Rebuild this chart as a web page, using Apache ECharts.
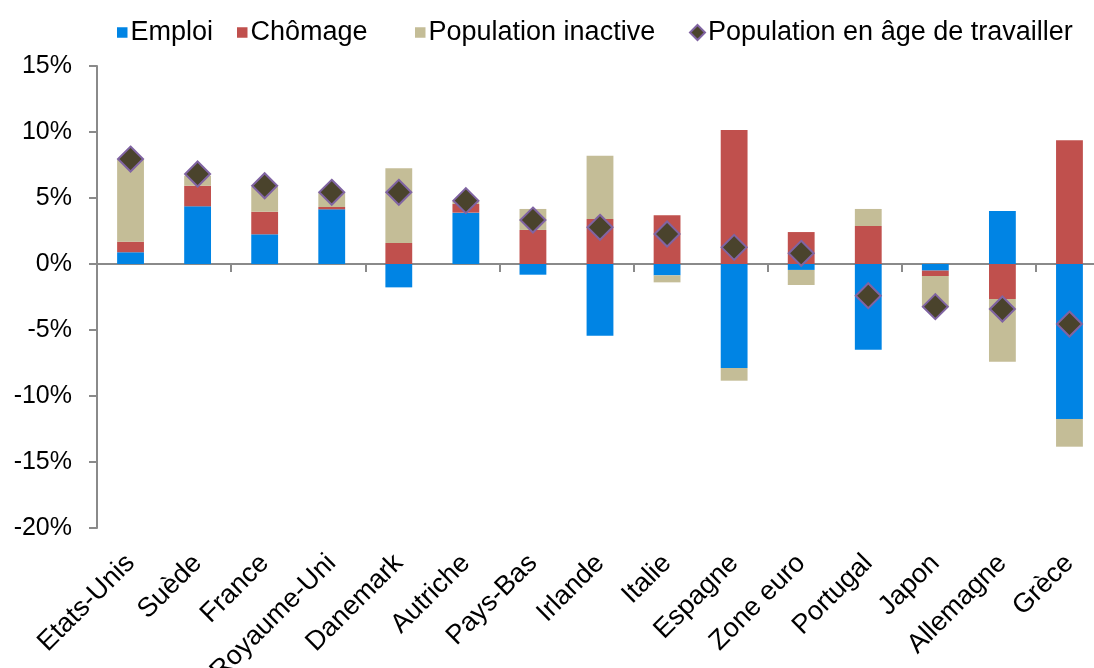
<!DOCTYPE html>
<html>
<head>
<meta charset="utf-8">
<script src="https://cdn.jsdelivr.net/npm/echarts@6/dist/echarts.min.js"></script>
<style>
  html, body { margin: 0; padding: 0; background: #fff; }
  #chart { width: 1094px; height: 668px; }
</style>
</head>
<body>
<div id="chart"></div>
<script>
// Contributions (in % points) to the change in the working-age population
const countries = ['Etats-Unis', 'Suède', 'France', 'Royaume-Uni', 'Danemark', 'Autriche', 'Pays-Bas',
  'Irlande', 'Italie', 'Espagne', 'Zone euro', 'Portugal', 'Japon', 'Allemagne', 'Grèce'];
const emploi = [0.89, 4.37, 2.25, 4.14, -1.77, 3.89, -0.81, -5.43, -0.86, -7.88, -0.45, -6.49, -0.50, 4.02, -11.74];
const chomage = [0.80, 1.56, 1.71, 0.18, 1.59, 0.66, 2.58, 3.41, 3.69, 10.15, 2.42, 2.88, -0.41, -2.65, 9.37];
const inactifs = [6.26, 0.76, 1.90, 1.11, 5.66, 0.22, 1.59, 4.79, -0.53, -0.96, -1.14, 1.29, -2.32, -4.75, -2.10];
const populationAgeTravailler = [7.95, 6.82, 5.93, 5.43, 5.43, 4.80, 3.33, 2.78, 2.27, 1.26, 0.81, -2.40, -3.23, -3.41, -4.55];
const yTicks = { min: -20, max: 15, step: 5 };

const FONT = '"Liberation Sans", Arial, sans-serif';
const AXIS_GREY = '#8a8a8a';

const chart = echarts.init(document.getElementById('chart'));

function legendAt(name, left, icon, size) {
  return {
    data: [name], left: left, top: 19, padding: 0,
    icon: icon, itemWidth: size, itemHeight: size,
    selectedMode: false,
    textStyle: { fontFamily: FONT, fontSize: 27, color: '#000', padding: [0, 0, 0, -2] }
  };
}

chart.setOption({
  animation: false,
  backgroundColor: '#fff',
  legend: [
    legendAt('Emploi', 117, 'rect', 10.5),
    legendAt('Chômage', 237, 'rect', 10.5),
    legendAt('Population inactive', 415, 'rect', 10.5),
    legendAt('Population en âge de travailler', 689, 'diamond', 15)
  ],
  grid: { left: 97, right: -9, top: 66, bottom: 140, containLabel: false, outerBoundsMode: 'none' },
  xAxis: [
    {
      type: 'category', data: countries, position: 'bottom',
      axisLine: { show: false, onZero: false }, axisTick: { show: false },
      axisLabel: { interval: 0, rotate: 45, margin: 31, fontFamily: FONT, fontSize: 27, color: '#000' }
    },
    {
      type: 'category', data: countries, position: 'bottom',
      axisLine: { show: true, onZero: true, lineStyle: { color: AXIS_GREY, width: 2 } },
      axisTick: { show: true, length: 8, alignWithLabel: false, lineStyle: { color: AXIS_GREY, width: 2 } },
      axisLabel: { show: false }
    }
  ],
  yAxis: {
    type: 'value', min: yTicks.min, max: yTicks.max, interval: yTicks.step,
    splitLine: { show: false },
    axisLine: { show: true, lineStyle: { color: AXIS_GREY, width: 2 } },
    axisTick: { show: true, length: 8, lineStyle: { color: AXIS_GREY, width: 2 } },
    axisLabel: { formatter: '{value}%', margin: 25, fontFamily: FONT, fontSize: 25, color: '#000' }
  },
  series: [
    { name: 'Emploi', type: 'bar', stack: 'total', data: emploi, barWidth: '40%',
      itemStyle: { color: '#0084E4' } },
    { name: 'Chômage', type: 'bar', stack: 'total', data: chomage, barWidth: '40%',
      itemStyle: { color: '#C0504D' } },
    { name: 'Population inactive', type: 'bar', stack: 'total', data: inactifs, barWidth: '40%',
      itemStyle: { color: '#C4BD97' } },
    { name: 'Population en âge de travailler', type: 'scatter', data: populationAgeTravailler,
      symbol: 'diamond', symbolSize: 25, z: 5,
      itemStyle: { color: '#4A432C', borderColor: '#8064A2', borderWidth: 2, opacity: 1 } }
  ]
});
</script>
</body>
</html>
